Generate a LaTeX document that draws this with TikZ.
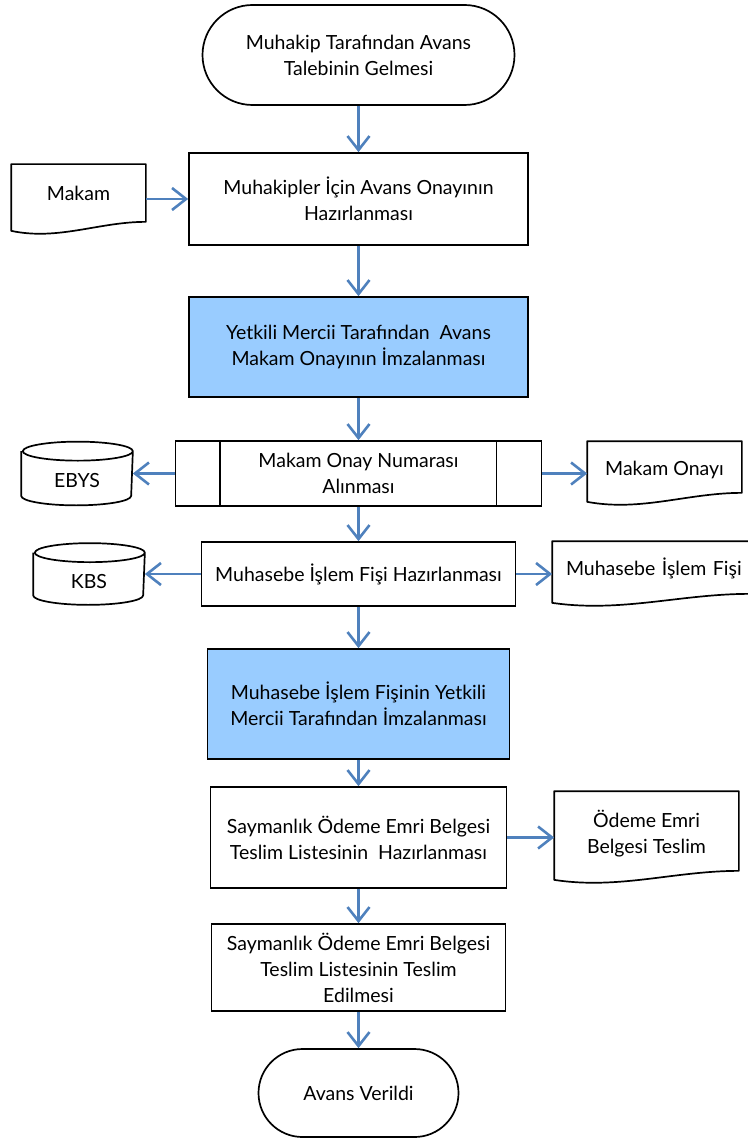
\documentclass[tikz,border=0pt]{standalone}
\usepackage{fontspec}
\setmainfont{Lato}
\usetikzlibrary{arrows.meta,calc}
\definecolor{arrblue}{HTML}{4F81BD}
\definecolor{boxblue}{HTML}{99CCFF}
\tikzset{
  base/.style={draw=black, line width=1.7pt, align=center, inner sep=2pt,
    font=\fontsize{19.5}{26}\selectfont},
  procbox/.style={base, rectangle},
  bluebox/.style={base, rectangle, fill=boxblue},
  termbox/.style={base, rectangle, rounded corners=#1},
  docbox/.style={base, draw=none, rectangle},
  cylbox/.style={base, draw=none, rectangle},
  arr/.style={draw=arrblue, line width=2.6pt, -{Straight Barb[length=14pt,width=22pt,line width=2.6pt]}},
  outline/.style={draw=black, line width=1.7pt, line join=round}
}
% single-line text whose visual centre sits #1 below the node centre
\newcommand\vtext[2]{\raisebox{\dimexpr-7pt-#1\relax}[0pt][0pt]{#2}}
\newcommand\docoutline[1]{%
  \draw[outline] (#1.north west) -- (#1.north east) -- ($(#1.south east)+(0,9pt)$)
    .. controls ($(#1.south east)!0.35!(#1.south west)+(0,9pt)$) and ($(#1.south east)!0.65!(#1.south west)+(0,-10pt)$) .. (#1.south west) -- cycle;}
\newcommand\cyloutline[1]{%
  \draw[outline] ($(#1.north west)+(0,-9.5pt)$) -- ($(#1.south west)+(0,9.5pt)$)
    arc[start angle=180,end angle=360,x radius=55pt,y radius=9.5pt]
    -- ($(#1.north east)+(0,-9.5pt)$)
    arc[start angle=0,end angle=180,x radius=55pt,y radius=9.5pt]
    arc[start angle=180,end angle=360,x radius=55pt,y radius=9.5pt];}
\begin{document}
\begin{tikzpicture}[x=1pt,y=-1pt]
\useasboundingbox (0,0) rectangle (747,1142);
% main column
\node[termbox=50pt, minimum width=312pt, minimum height=100pt] (start) at (358.5,55) {Muhakip Tarafından Avans\\Talebinin Gelmesi};
\node[procbox, minimum width=339pt, minimum height=92pt] (n2) at (358.5,199) {Muhakipler İçin Avans Onayının\\Hazırlanması};
\node[bluebox, minimum width=339pt, minimum height=100pt] (n3) at (358.5,347) {Yetkili Mercii Tarafından\ \ Avans\\Makam Onayının İmzalanması};
\node[procbox, minimum width=366pt, minimum height=65pt] (n4) at (358.5,473.5) {Makam Onay Numarası\\Alınması};
\draw[outline] ([xshift=45pt]n4.north west) -- ([xshift=45pt]n4.south west);
\draw[outline] ([xshift=-46pt]n4.north east) -- ([xshift=-46pt]n4.south east);
\node[procbox, minimum width=314pt, minimum height=64pt] (n5) at (358.5,574) {Muhasebe İşlem Fişi Hazırlanması};
\node[bluebox, minimum width=302pt, minimum height=110pt] (n6) at (358.5,704) {Muhasebe İşlem Fişinin Yetkili\\Mercii Tarafından İmzalanması};
\node[procbox, minimum width=296pt, minimum height=101pt] (n7) at (358.5,837.5) {Saymanlık Ödeme Emri Belgesi\\Teslim Listesinin\ \ Hazırlanması};
\node[procbox, minimum width=294pt, minimum height=87pt] (n8) at (358.5,967.5) {Saymanlık Ödeme Emri Belgesi\\Teslim Listesinin Teslim\\Edilmesi};
\node[termbox=44pt, minimum width=200pt, minimum height=88pt] (end) at (358.5,1093) {Avans Verildi};
% side nodes
\node[docbox, minimum width=133pt, minimum height=65pt] (makam) at (78.5,197.5) {\vtext{-4pt}{Makam}};
\docoutline{makam}
\node[cylbox, minimum width=110pt, minimum height=62pt] (ebys) at (77,473.5) {\vtext{6.5pt}{EBYS}};
\cyloutline{ebys}
\node[docbox, minimum width=153pt, minimum height=59pt] (onay) at (664.5,471.5) {\vtext{-3.5pt}{Makam Onayı}};
\docoutline{onay}
\node[cylbox, minimum width=110pt, minimum height=60pt] (kbs) at (89,574) {\vtext{7.5pt}{KBS}};
\cyloutline{kbs}
\node[docbox, minimum width=196pt, minimum height=60pt, text width=190pt, align=left] (fis) at (651,572) {\hspace*{10pt}\vtext{-4pt}{Muhasebe İşlem Fişi}};
\docoutline{fis}
\node[docbox, minimum width=183pt, minimum height=87pt] (odeme) at (646.5,835.5) {\raisebox{4pt}{\begin{tabular}{@{}c@{}}Ödeme Emri\\Belgesi Teslim\end{tabular}}};
\docoutline{odeme}
% connectors
\draw[arr] (start) -- (n2);
\draw[arr] (makam.east |- n2.west) -- (n2.west);
\draw[arr] (n2) -- (n3);
\draw[arr] (n3) -- (n4);
\draw[arr] (n4.west) -- (n4.west -| ebys.east);
\draw[arr] (n4.east) -- (n4.east -| onay.west);
\draw[arr] (n4) -- (n5);
\draw[arr] (n5.west) -- (n5.west -| kbs.east);
\draw[arr] (n5.east) -- (n5.east -| fis.west);
\draw[arr] (n5) -- (n6);
\draw[arr] (n6) -- (n7);
\draw[arr] (n7.east) -- (n7.east -| odeme.west);
\draw[arr] (n7) -- (n8);
\draw[arr] (n8) -- (end);
\end{tikzpicture}
\end{document}
